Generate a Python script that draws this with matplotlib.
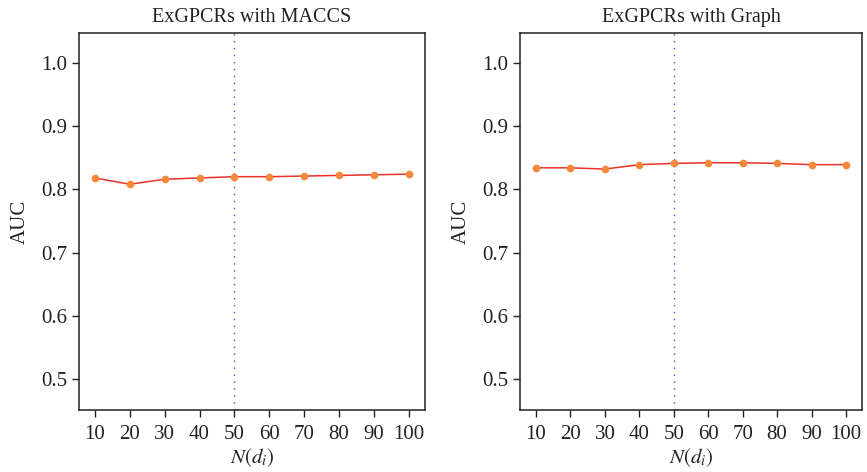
import matplotlib
matplotlib.use('Agg')
import matplotlib.pyplot as plt

plt.rcParams['font.family'] = 'Liberation Serif'
plt.rcParams['mathtext.fontset'] = 'stix'

n_di = [10, 20, 30, 40, 50, 60, 70, 80, 90, 100]
#AUC
auc_maccs = [0.818, 0.808, 0.816, 0.818, 0.820, 0.820, 0.821, 0.822, 0.823, 0.824]
auc_graph = [0.834, 0.834, 0.832, 0.839, 0.841, 0.842, 0.842, 0.841, 0.839, 0.839]
titles = ['ExGPCRs with MACCS', 'ExGPCRs with Graph']
yticks = [0.5, 0.6, 0.7, 0.8, 0.9, 1.0]
best_n = 50

fig = plt.figure(figsize=(8.67, 4.72), dpi=100)
ax1 = fig.add_axes([0.091, 0.131, 0.399, 0.799])
ax2 = fig.add_axes([0.600, 0.131, 0.394, 0.799])

for ax, auc, title in zip([ax1, ax2], [auc_maccs, auc_graph], titles):
    ax.axvline(best_n, color='#3a4fd0', linestyle=(0, (1, 4)), linewidth=1.0, zorder=1)
    ax.plot(n_di, auc, color='#e8322a', linewidth=1.1, marker='o', markersize=4.5,
            markerfacecolor='#f5883a', markeredgecolor='#f5883a', zorder=3)
    ax.set_xlim(5.4, 104.6)
    ax.set_ylim(0.451, 1.047)
    ax.set_xticks(n_di)
    ax.set_yticks(yticks)
    ax.set_yticklabels(['%.1f' % v for v in yticks])
    ax.tick_params(labelsize=15, length=5, width=1, color='#222222', labelcolor='#222222')
    ax.tick_params(axis='x', pad=6)
    ax.set_title(title, fontsize=14.5, color='#222222', pad=8)
    ax.set_xlabel('$N(d_i)$', fontsize=15, color='#222222', labelpad=1)
    ax.set_ylabel('AUC', fontsize=15, color='#222222', labelpad=8)
    for s in ax.spines.values():
        s.set_color('#222222')
        s.set_linewidth(1.1)

fig.savefig('out.png', dpi=100)
